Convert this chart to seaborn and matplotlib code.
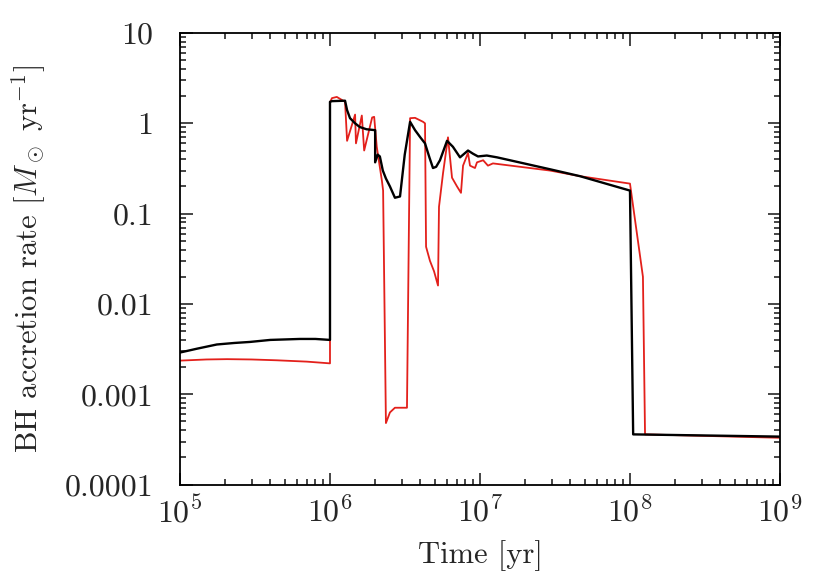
import numpy as np
import pandas as pd
import seaborn as sns
import matplotlib.pyplot as plt
from matplotlib.ticker import LogLocator, FixedLocator, FixedFormatter, NullFormatter

# black run
time_black = [1.0e5, 1.3e5, 1.76e5, 2.3e5, 2.93e5, 4.0e5, 6.3e5, 8.0e5, 1.0e6, 1.0e6,
              1.03e6, 1.26e6, 1.30e6, 1.36e6, 1.47e6, 1.58e6, 1.75e6, 2.0e6, 2.0e6, 2.08e6,
              2.15e6, 2.25e6, 2.36e6, 2.51e6, 2.71e6, 2.93e6, 3.15e6, 3.42e6, 3.69e6, 4.0e6,
              4.3e6, 4.6e6, 4.86e6, 5.1e6, 5.41e6, 6.03e6, 6.6e6, 7.36e6, 8.32e6, 9.0e6,
              9.7e6, 1.11e7, 1.3e7, 2.93e7, 4.64e7, 1.0e8, 1.05e8, 1.0e9]
rate_black = [0.0029, 0.0032, 0.00356, 0.0037, 0.0038, 0.0040, 0.0041, 0.0041, 0.0040, 1.73,
              1.76, 1.78, 1.40, 1.14, 1.0, 0.91, 0.86, 0.84, 0.37, 0.45,
              0.43, 0.30, 0.245, 0.20, 0.15, 0.155, 0.45, 1.04, 0.84, 0.70,
              0.60, 0.42, 0.32, 0.33, 0.39, 0.64, 0.55, 0.42, 0.50, 0.46,
              0.43, 0.44, 0.42, 0.31, 0.26, 0.18, 0.00036, 0.00034]

# red run
time_red = [1.0e5, 1.5e5, 2.06e5, 3.0e5, 4.4e5, 7.0e5, 1.0e6, 1.0e6, 1.03e6, 1.11e6,
            1.26e6, 1.30e6, 1.47e6, 1.49e6, 1.63e6, 1.69e6, 1.91e6, 1.97e6, 2.05e6, 2.22e6,
            2.26e6, 2.36e6, 2.51e6, 2.71e6, 3.26e6, 3.42e6, 3.69e6, 4.17e6, 4.30e6, 4.37e6,
            4.64e6, 4.94e6, 5.25e6, 5.33e6, 5.67e6, 6.12e6, 6.51e6, 7.03e6, 7.47e6, 7.71e6,
            8.32e6, 8.58e6, 9.26e6, 9.55e6, 1.05e7, 1.13e7, 1.22e7, 2.93e7, 4.64e7, 1.0e8,
            1.22e8, 1.26e8, 1.0e9]
rate_red = [0.00236, 0.00243, 0.00245, 0.00243, 0.00238, 0.0023, 0.0022, 1.7, 1.9, 1.96,
            1.73, 0.64, 1.25, 0.60, 1.22, 0.50, 1.16, 1.18, 0.55, 0.23,
            0.18, 0.00048, 0.00063, 0.00071, 0.00071, 1.14, 1.15, 1.04, 1.0, 0.043,
            0.030, 0.023, 0.016, 0.119, 0.28, 0.70, 0.25, 0.20, 0.17, 0.34,
            0.47, 0.34, 0.32, 0.37, 0.39, 0.34, 0.36, 0.30, 0.26, 0.215,
            0.020, 0.00036, 0.00033]

ytick_vals = [1e-4, 1e-3, 1e-2, 1e-1, 1, 10]
ytick_text = ['0.0001', '0.001', '0.01', '0.1', '1', '10']

red_df = pd.DataFrame({'t': time_red, 'rate': rate_red})
black_df = pd.DataFrame({'t': time_black, 'rate': rate_black})

sns.set_style('ticks')
plt.rcParams['font.family'] = 'serif'
plt.rcParams['font.serif'] = ['cmr10', 'DejaVu Serif']
plt.rcParams['mathtext.fontset'] = 'cm'
plt.rcParams['axes.formatter.use_mathtext'] = True
plt.rcParams['axes.unicode_minus'] = False

fig = plt.figure(figsize=(8.31, 5.79), dpi=100)
ax = fig.add_axes([0.2166, 0.163, 0.722, 0.78])

sns.lineplot(x='t', y='rate', data=red_df, sort=False, estimator=None, color='#e3201b',
             linewidth=1.3, ax=ax)
sns.lineplot(x='t', y='rate', data=black_df, sort=False, estimator=None, color='black',
             linewidth=1.7, ax=ax)

ax.set_xscale('log')
ax.set_yscale('log')
ax.set_xlim(1e5, 1e9)
ax.set_ylim(1e-4, 10)

ax.yaxis.set_major_locator(FixedLocator(ytick_vals))
ax.yaxis.set_major_formatter(FixedFormatter(ytick_text))
ax.yaxis.set_minor_locator(LogLocator(base=10, subs=np.arange(2, 10), numticks=20))
ax.yaxis.set_minor_formatter(NullFormatter())
ax.xaxis.set_major_locator(LogLocator(base=10, numticks=10))
ax.xaxis.set_minor_locator(LogLocator(base=10, subs=np.arange(2, 10), numticks=20))
ax.xaxis.set_minor_formatter(NullFormatter())

ax.tick_params(which='both', direction='in', top=True, right=True, width=1.2, labelsize=23)
ax.tick_params(which='major', length=9)
ax.tick_params(which='minor', length=4.5)
ax.tick_params(axis='x', which='major', pad=8)
ax.tick_params(axis='y', which='major', pad=19)
for sp in ax.spines.values():
    sp.set_linewidth(1.3)
    sp.set_color('black')

ax.set_xlabel('Time [yr]', fontsize=22, labelpad=9)
ax.set_ylabel(r'BH accretion rate [$M_\odot$ yr$^{-1}$]', fontsize=22, labelpad=12)

fig.savefig('out.png', dpi=100)
